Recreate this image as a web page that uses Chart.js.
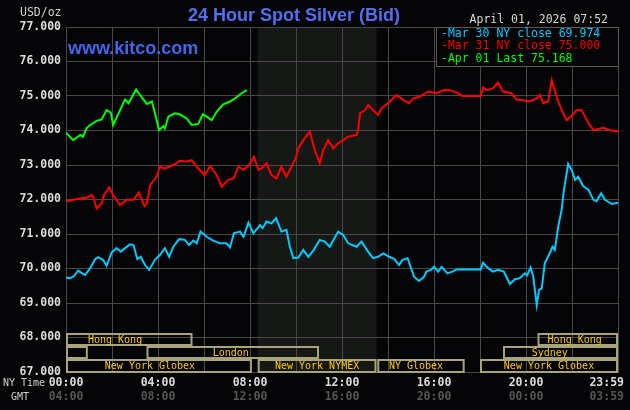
<!DOCTYPE html>
<html>
<head>
<meta charset="utf-8">
<script src="https://cdn.jsdelivr.net/npm/chart.js@4"></script>
<style>
  html, body { margin: 0; padding: 0; background: #050508; }
  canvas { display: block; }
</style>
</head>
<body>
<canvas id="silver" width="630" height="410"></canvas>
<script>
// times are minutes after midnight, New York time
var mar30Times = [0,10,19,32,42,50,63,76,84,97,106,119,132,143,154,167,176,186,195,206,217,232,245,258,269,280,295,310,321,332,341,351,367,384,402,419,428,438,454,463,476,489,506,513,523,536,548,562,575,584,593,606,619,632,645,662,675,688,710,723,736,758,771,788,801,814,828,843,856,869,878,891,899,908,921,934,940,952,960,971,980,995,1008,1019,1082,1088,1101,1114,1127,1142,1158,1171,1184,1197,1203,1212,1219,1228,1234,1241,1249,1262,1269,1275,1284,1293,1299,1310,1319,1328,1336,1349,1363,1376,1384,1396,1406,1424,1440];
var mar30Values = [69.74,69.72,69.76,69.94,69.86,69.81,70.01,70.27,70.33,70.25,70.08,70.46,70.59,70.49,70.59,70.70,70.68,70.27,70.34,70.10,69.96,70.25,70.39,70.59,70.34,70.63,70.85,70.83,70.68,70.81,70.73,71.07,70.92,70.81,70.73,70.73,70.61,71.02,71.07,70.92,71.33,71.02,71.26,71.17,71.36,71.31,71.46,71.07,71.12,70.63,70.30,70.32,70.54,70.34,70.52,70.83,70.78,70.63,71.07,70.97,70.73,70.63,70.78,70.49,70.30,70.34,70.44,70.34,70.28,70.10,70.25,70.30,70.05,69.76,69.64,69.76,69.91,69.96,70.05,69.91,70.05,69.86,69.91,69.974,69.974,70.17,70.01,69.91,69.96,69.91,69.55,69.69,69.72,69.86,69.80,70.03,69.76,68.94,69.38,69.42,70.15,70.44,70.63,70.54,71.21,71.70,72.28,73.03,72.86,72.57,72.66,72.39,72.28,71.99,71.95,72.18,71.99,71.87,71.91];

var mar31Times = [0,19,37,55,67,71,80,93,99,113,123,141,158,176,190,205,211,220,236,245,258,280,297,315,328,341,362,376,393,406,423,437,450,463,478,490,502,510,523,536,549,562,575,588,599,606,619,636,649,662,671,684,697,710,723,736,758,762,767,780,788,801,814,823,845,862,880,895,906,923,945,967,984,1002,1020,1035,1082,1088,1097,1114,1127,1140,1162,1175,1193,1210,1228,1236,1245,1258,1267,1276,1284,1293,1306,1319,1332,1345,1363,1376,1402,1419,1440];
var mar31Values = [71.94,71.99,72.03,72.06,72.13,72.08,71.74,71.89,72.13,72.35,72.13,71.84,71.99,71.99,72.20,71.81,71.89,72.42,72.66,72.95,72.90,73.00,73.12,73.10,73.14,72.95,72.71,72.97,72.71,72.37,72.57,72.61,72.95,72.86,73.00,73.24,72.86,72.90,73.05,72.71,72.61,72.95,72.66,72.95,73.19,73.48,73.72,73.97,73.43,73.05,73.43,73.72,73.48,73.63,73.72,73.82,73.87,74.00,74.50,74.59,74.74,74.59,74.45,74.64,74.84,75.03,74.88,74.79,74.93,74.98,75.13,75.08,75.17,75.17,75.10,75.00,75.00,75.25,75.17,75.22,75.39,75.13,75.08,74.90,74.88,74.84,74.93,75.03,74.79,74.84,75.46,75.13,74.84,74.59,74.30,74.42,74.59,74.59,74.21,74.01,74.08,74.01,73.98];

var apr01Times = [0,19,37,44,54,63,80,93,106,117,123,141,154,163,183,193,211,224,232,243,254,258,267,284,297,315,328,345,357,367,380,393,410,428,441,458,472];
var apr01Values = [73.94,73.72,73.87,73.82,74.07,74.16,74.28,74.32,74.59,74.52,74.16,74.59,74.90,74.79,75.19,75.03,74.77,74.84,74.50,74.01,74.13,74.06,74.40,74.50,74.47,74.35,74.16,74.19,74.47,74.40,74.30,74.54,74.76,74.84,74.93,75.08,75.168];

var seriesNames = ['Mar 30 NY close 69.974', 'Mar 31 NY close 75.000', 'Apr 01 Last 75.168'];
var seriesColors = ['#00ccff', '#ff0000', '#00ff00'];

var nyLabels = ['00:00', '04:00', '08:00', '12:00', '16:00', '20:00', '23:59'];
var gmtLabels = ['04:00', '08:00', '12:00', '16:00', '20:00', '00:00', '03:59'];
var labelTimes = [0, 240, 480, 720, 960, 1200, 1439];

var nymexHours = [500, 810];

var sessions = [
    { label: 'Hong Kong', row: 0, start: 0, end: 330, mid: 128 },
    { label: '', row: 1, start: 0, end: 57 },
    { label: 'London', row: 1, start: 210, end: 660, mid: 430 },
    { label: 'New York Globex', row: 2, start: 0, end: 485, mid: 219 },
    { label: 'New York NYMEX', row: 2, start: 500, end: 810, mid: 655 },
    { label: 'NY Globex', row: 2, start: 812, end: 1040, mid: 913 },
    { label: 'New York Globex', row: 2, start: 1080, end: 1440, mid: 1260 },
    { label: 'Sydney', row: 1, start: 1140, end: 1440, mid: 1262 },
    { label: 'Hong Kong', row: 0, start: 1230, end: 1440, mid: 1327 }
];

function toPoints(times, values) {
    return times.map(function (t, i) { return { x: t, y: values[i] }; });
}

function mono(size, weight) {
    return (weight || 'normal') + ' ' + size + 'px "DejaVu Sans Mono", monospace';
}

var kitcoDecor = {
    id: 'kitcoDecor',
    beforeDraw: function (chart) {
        var c = chart.ctx, a = chart.chartArea, xs = chart.scales.x;
        c.save();
        c.fillStyle = '#050508';
        c.fillRect(0, 0, chart.width, chart.height);
        // NYMEX trading hours
        var x0 = xs.getPixelForValue(nymexHours[0]);
        var x1 = xs.getPixelForValue(nymexHours[1]);
        c.fillStyle = '#161816';
        c.fillRect(x0, a.top, x1 - x0, a.bottom - a.top);
        c.restore();
    },
    afterDraw: function (chart) {
        var c = chart.ctx, a = chart.chartArea, xs = chart.scales.x;
        c.save();

        // market sessions along the bottom
        var rowTop = [a.bottom - 39, a.bottom - 26, a.bottom - 13];
        var rowH = [12, 12, 13];
        c.lineWidth = 2;
        c.strokeStyle = '#a8a478';
        c.fillStyle = '#ffcc00';
        c.font = mono(10);
        c.textAlign = 'center';
        c.textBaseline = 'middle';
        sessions.forEach(function (s) {
            var x0 = xs.getPixelForValue(s.start);
            var x1 = xs.getPixelForValue(s.end);
            var top = rowTop[s.row];
            c.strokeRect(x0 + 1, top + 1, x1 - x0 - 2, rowH[s.row] - 1);
            if (s.label) c.fillText(s.label, xs.getPixelForValue(s.mid), top + rowH[s.row] / 2 + 1);
        });

        // time labels
        c.font = mono(11.5, 'bold');
        labelTimes.forEach(function (t, i) {
            var px = xs.getPixelForValue(t);
            c.textAlign = i === labelTimes.length - 1 ? 'right' : 'center';
            if (i === labelTimes.length - 1) px = chart.width - 6;
            c.fillStyle = '#dcdcdc';
            c.fillText(nyLabels[i], px, 383);
            c.fillStyle = '#555555';
            c.fillText(gmtLabels[i], px, 397);
        });
        c.font = mono(10);
        c.textAlign = 'left';
        c.fillStyle = '#d0d0d0';
        c.fillText('NY Time', 3, 383);
        c.fillText('GMT', 11, 397);
        c.font = mono(11.5);
        c.fillText('USD/oz', 20, 13);

        // date stamp
        c.textAlign = 'right';
        c.fillStyle = '#d8d8d8';
        c.fillText('April 01, 2026 07:52', 608, 20);

        // legend box
        var lx = a.right - 182, ly = a.top;
        c.fillStyle = '#050508';
        c.fillRect(lx, ly, 182, 39);
        c.lineWidth = 1;
        c.strokeStyle = '#5a5a5a';
        c.strokeRect(lx + 0.5, ly + 0.5, 182, 39);
        c.textAlign = 'left';
        var lineY = [34, 46, 59];
        chart.data.datasets.forEach(function (ds, i) {
            c.fillStyle = ds.borderColor;
            c.fillText('-' + ds.label, lx + 5, lineY[i]);
        });

        // title and site name
        c.font = 'bold 18px "Liberation Sans", Arial, sans-serif';
        c.fillStyle = '#5070f2';
        c.textAlign = 'center';
        c.fillText('24 Hour Spot Silver (Bid)', 294, 16);
        c.textAlign = 'left';
        c.fillStyle = '#4466ee';
        c.fillText('www.kitco.com', 68, 49);

        c.restore();
    }
};

new Chart(document.getElementById('silver'), {
    type: 'line',
    data: {
        datasets: [{
            label: seriesNames[0],
            data: toPoints(mar30Times, mar30Values),
            borderColor: seriesColors[0],
            borderWidth: 2,
            pointRadius: 0,
            tension: 0,
            fill: false
        }, {
            label: seriesNames[1],
            data: toPoints(mar31Times, mar31Values),
            borderColor: seriesColors[1],
            borderWidth: 2,
            pointRadius: 0,
            tension: 0,
            fill: false
        }, {
            label: seriesNames[2],
            data: toPoints(apr01Times, apr01Values),
            borderColor: seriesColors[2],
            borderWidth: 2,
            pointRadius: 0,
            tension: 0,
            fill: false
        }]
    },
    options: {
        responsive: false,
        animation: false,
        devicePixelRatio: 1,
        layout: { padding: { left: 0, right: 12, top: 27, bottom: 38 } },
        plugins: {
            legend: { display: false },
            tooltip: { enabled: false }
        },
        scales: {
            x: {
                type: 'linear',
                min: 0,
                max: 1440,
                ticks: { display: false, stepSize: 120 },
                grid: { color: '#484848', drawTicks: false },
                border: { color: '#484848' },
                afterFit: function (s) { s.height = 0; }
            },
            y: {
                min: 67,
                max: 77,
                ticks: {
                    stepSize: 1,
                    padding: 5,
                    color: '#dcdcdc',
                    font: { family: 'DejaVu Sans Mono', size: 11.5, weight: 'bold' },
                    callback: function (v) { return v.toFixed(3); }
                },
                grid: { color: '#484848', drawTicks: false },
                border: { color: '#484848' },
                afterFit: function (s) { s.width = 66; }
            }
        }
    },
    plugins: [kitcoDecor]
});
</script>
</body>
</html>
